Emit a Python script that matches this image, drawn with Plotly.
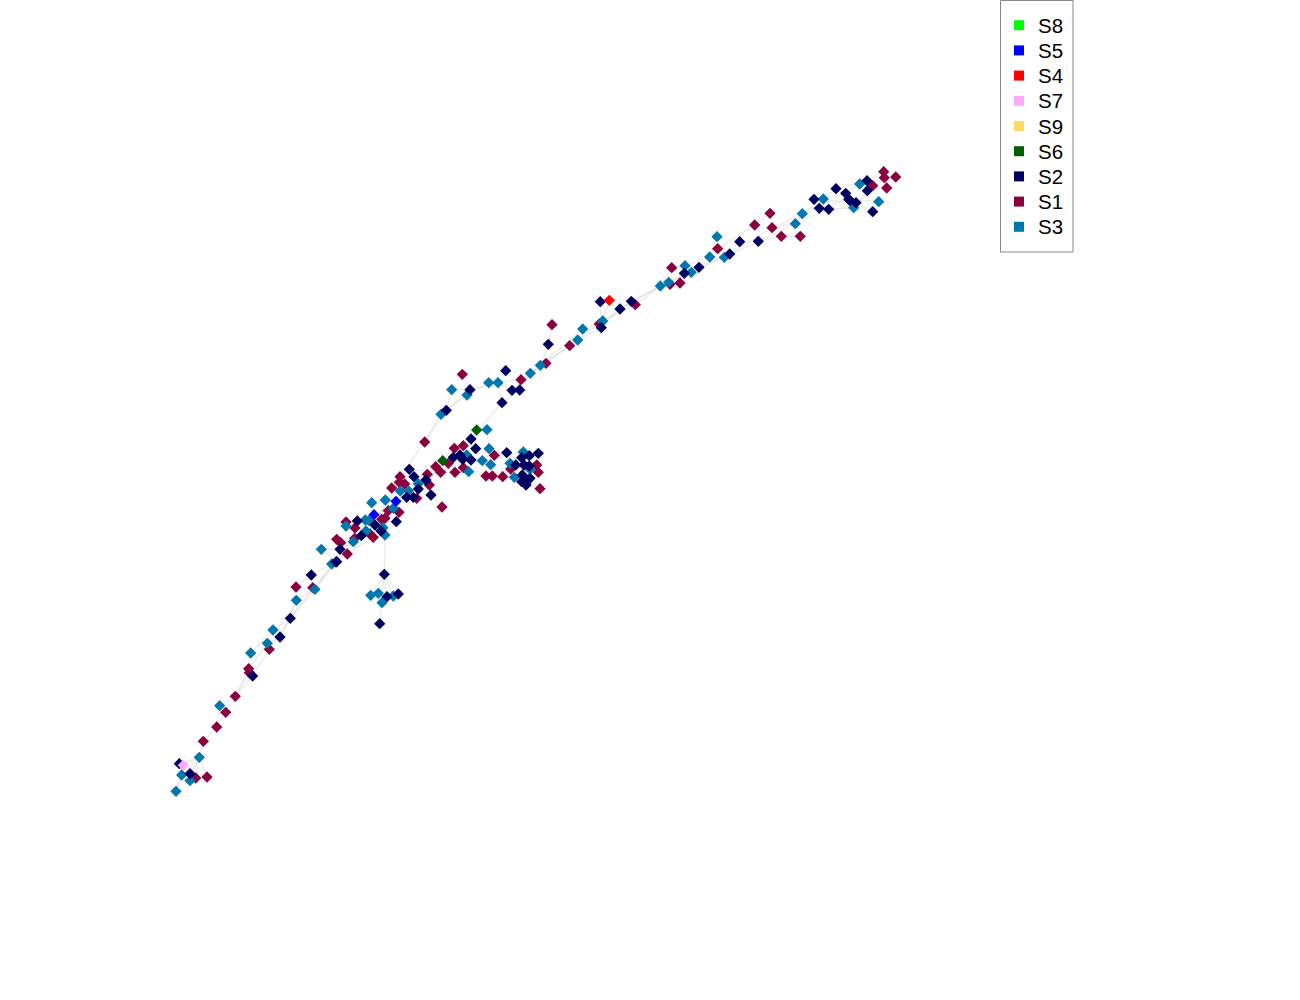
import plotly.graph_objects as go

# colours and names, same order as the legend
series = ["S8", "S5", "S4", "S7", "S9", "S6", "S2", "S1", "S3"]
colors = {"S8": "#00ff00", "S5": "#0000ff", "S4": "#ff0000", "S7": "#ffa8ff", "S9": "#ffd966",
          "S6": "#005f00", "S2": "#000060", "S1": "#8b003f", "S3": "#0078ae"}

# values
s2_x = [336.7, 311.3, 290.3, 280, 252.7, 179.3, 190, 384.3, 387, 398.3, 379.7,
        471, 475.7, 453.3, 460, 462.7, 471, 506.7, 538.3, 529.3, 521.7, 515.7, 524, 529.3, 522.3, 521.7, 526, 530,
        409.3, 414, 426, 418.3, 431, 406.7, 413.3, 396.3, 357.3, 375, 381, 361.3, 340, 336,
        600.3, 620, 631.3, 601.3, 548.3, 505.7, 470, 512, 519.7, 502, 446.3,
        684.3, 699, 729.7, 739.7, 758.3, 814, 819.3, 828.7, 836, 845.7, 848.7, 856, 850, 867, 867.3, 872.7]
s2_y = [561.7, 575, 618.3, 637, 676, 763.7, 773.7, 574.3, 596.7, 594, 623.7,
        439, 448.7, 457.3, 455, 459.3, 460, 452.7, 453.3, 455.7, 457.7, 465, 465, 466, 475, 481.7, 485, 478.3,
        469.3, 476.7, 480, 489, 495, 497.3, 497.3, 521.7, 521, 525, 531, 535.7, 549.3, 562,
        301.7, 309, 301.3, 327.7, 344.3, 370.7, 389.7, 390.3, 390, 402.7, 410.3,
        273.3, 267.3, 254, 241.7, 241.3, 199.3, 208.3, 209.3, 188.7, 193.3, 199.3, 202.7, 200.7, 180.7, 190.7, 211.7]

s1_x = [296, 312.7, 269.3, 248.7, 249.3, 235.3, 225.7, 216.7, 203.3, 195.7, 207,
        424.7, 463.3, 454.3, 494.3, 435.7, 440.7, 448.3, 455, 463.3, 486, 492.3, 502.7, 536.7, 538.3, 510.7, 540, 527.3,
        427.3, 429.3, 400, 399.3, 404.7, 391.7, 416.7, 442, 399, 388.3, 385, 381.7, 346, 355, 370, 373.3, 354.7, 336.7, 340.7, 347.3,
        635.3, 599.3, 552, 569.7, 546, 521, 462.3,
        671.7, 670, 680, 717.7, 754.7, 770, 772, 781.3, 800.3, 872.7, 883.7, 884.3, 895.7, 886.7]
s1_y = [587, 587.7, 649.3, 668.7, 672.7, 696.3, 712.3, 727, 741.3, 778, 777,
        442, 445.7, 448.3, 455.3, 466.7, 472.3, 463.3, 472.3, 467.7, 476, 476, 476.7, 465, 472.3, 469, 488.7, 481,
        474.3, 485, 476.7, 482.3, 484, 488, 498.3, 507, 512.3, 510.7, 518.3, 519.3, 522, 528, 534, 537.3, 538.3, 539.3, 542.7, 554,
        304.7, 324, 324.7, 345.7, 363.3, 379.7, 374.3,
        267.7, 284.3, 283, 248.7, 225, 213.3, 227.7, 236.3, 236.3, 185.7, 171.7, 177.7, 177, 188]

s3_x = [331.7, 315, 296.3, 273, 267.3, 250.7, 219.7, 199.3, 181.7, 190, 176, 370.7, 378.3, 393.3, 382,
        487, 489, 466.7, 482.3, 490.7, 468.7, 523.3, 510, 514.3, 530, 418.3, 408.3, 400.3, 371.7, 385.3, 393.3,
        369, 365.3, 346, 366, 383, 385, 353.3, 321.3,
        660.3, 602.7, 582.7, 577.7, 540.3, 530.3, 488.7, 498, 451.7, 467, 441,
        668.7, 685, 691.3, 709.7, 724.3, 717, 795.3, 802.3, 823.3, 859.7, 853.7, 878.7]
s3_y = [564, 589.3, 600.3, 630, 643.3, 653, 705.7, 757.3, 775, 780.7, 791.3, 595.3, 593.3, 596, 602.7,
        429.7, 448.7, 455, 460.7, 464.7, 471.7, 452, 463.3, 477.3, 469.3, 483.7, 490.7, 491, 502.7, 500, 508.3,
        520.7, 520, 526, 531, 527.7, 535, 541.7, 549.3,
        286, 321, 329, 340, 365.3, 373.3, 382.7, 382.7, 389.7, 395, 414.3,
        282.3, 265.7, 272.3, 257, 257.3, 236.7, 223.7, 213.7, 199, 184, 207.7, 201.7]

s4_x = [609.3]
s4_y = [300.3]
s5_x = [396, 374]
s5_y = [501.3, 514.7]
s6_x = [476.7, 442.7]
s6_y = [430, 460.7]
s7_x = [183.3]
s7_y = [765.3]

# bottom to top
points = {"S1": (s1_x, s1_y), "S3": (s3_x, s3_y), "S2": (s2_x, s2_y),
          "S6": (s6_x, s6_y), "S5": (s5_x, s5_y), "S4": (s4_x, s4_y), "S7": (s7_x, s7_y)}

# faint links, each one a run through nodes
links = [
    [(199.3, 757.3), (179.3, 763.7)], [(199.3, 757.3), (183.3, 765.3), (176, 791.3)], [(199.3, 757.3), (181.7, 775), (176, 791.3)],
    [(199.3, 757.3), (190, 773.7)], [(199.3, 757.3), (190, 780.7)], [(199.3, 757.3), (195.7, 778)], [(199.3, 757.3), (207, 777)],
    [(183.3, 765.3), (190, 773.7)], [(179.3, 763.7), (181.7, 775)],
    [(199.3, 757.3), (203.3, 741.3), (216.7, 727), (225.7, 712.3), (235.3, 696.3), (248.7, 668.7), (267.3, 643.3), (280, 637), (290.3, 618.3), (296.3, 600.3), (315, 589.3), (331.7, 564), (353.3, 541.7), (369, 520.7), (396, 501.3), (418.3, 483.7), (440.7, 472.3), (463.3, 460)],
    [(216.7, 727), (219.7, 705.7), (235.3, 696.3), (252.7, 676), (269.3, 649.3), (290.3, 618.3), (312.7, 587.7), (336.7, 561.7), (354.7, 538.3), (373.3, 520), (399, 491), (426, 480), (448.3, 463.3)],
    [(235.3, 696.3), (249.3, 672.7), (250.7, 653), (273, 630), (290.3, 618.3), (296, 587), (311.3, 575), (336, 562), (340.7, 542.7), (366, 531), (385, 518.3), (408.3, 490.7), (427.3, 474.3), (454.3, 448.3)],
    [(290.3, 618.3), (315, 589.3), (336.7, 561.7), (321.3, 549.3), (340, 549.3), (361.3, 535.7), (381.7, 519.3), (400, 476.7), (424.7, 442), (441, 414.3), (446.3, 410.3), (467, 395), (488.7, 382.7), (521, 379.7), (540.3, 365.3), (569.7, 345.7), (602.7, 321), (635.3, 304.7), (660.3, 286)],
    [(336, 562), (347.3, 554), (373.3, 537.3), (385, 500), (409.3, 469.3), (440.7, 472.3), (471, 439), (502, 402.7), (519.7, 390), (530.3, 373.3), (546, 363.3), (577.7, 340), (601.3, 327.7), (620, 309), (660.3, 286), (691.3, 272.3), (724.3, 257.3), (758.3, 241.3), (795.3, 223.7), (828.7, 209.3), (853.7, 207.7), (872.7, 185.7)],
    [(424.7, 442), (446.3, 410.3), (470, 389.7), (498, 382.7), (512, 390.3), (540.3, 365.3), (582.7, 329), (599.3, 324), (631.3, 301.3), (668.7, 282.3), (699, 267.3), (729.7, 254), (772, 227.7), (802.3, 213.7), (836, 188.7), (867, 180.7), (883.7, 171.7)],
    [(476.7, 430), (471, 439)], [(487, 429.7), (489, 448.7)], [(462.3, 374.3), (470, 389.7)], [(451.7, 389.7), (470, 389.7)], [(451.7, 389.7), (446.3, 410.3)],
    [(505.7, 370.7), (488.7, 382.7)], [(502, 402.7), (498, 382.7)], [(548.3, 344.3), (552, 324.7)], [(548.3, 344.3), (540.3, 365.3)],
    [(600.3, 301.7), (601.3, 327.7)], [(609.3, 300.3), (602.7, 321)],
    [(660.3, 286), (671.7, 267.7), (685, 265.7), (709.7, 257), (717, 236.7)], [(670, 284.3), (680, 283), (699, 267.3), (717.7, 248.7), (754.7, 225), (770, 213.3)],
    [(758.3, 241.3), (781.3, 236.3), (800.3, 236.3)], [(772, 227.7), (795.3, 223.7), (823.3, 199), (845.7, 193.3), (859.7, 184), (895.7, 177)],
    [(819.3, 208.3), (848.7, 199.3), (878.7, 201.7)], [(814, 199.3), (856, 202.7), (872.7, 211.7)], [(853.7, 207.7), (884.3, 177.7), (886.7, 188)],
    [(440.7, 472.3), (468.7, 471.7), (486, 476), (510.7, 469), (536.7, 465)], [(463.3, 467.7), (492.3, 476), (514.3, 477.3), (527.3, 481), (540, 488.7)],
    [(471, 460), (506.7, 452.7), (524, 465), (538.3, 453.3)], [(489, 448.7), (510, 463.3), (538.3, 472.3)], [(482.3, 460.7), (523.3, 452), (530, 469.3)], [(502.7, 476.7), (521.7, 457.7)],
    [(418.3, 489), (431, 495), (442, 507)], [(385, 535), (384.3, 574.3)],
    [(384.3, 574.3), (370.7, 595.3)], [(384.3, 574.3), (378.3, 593.3)], [(384.3, 574.3), (387, 596.7)], [(384.3, 574.3), (393.3, 596)], [(384.3, 574.3), (398.3, 594)], [(384.3, 574.3), (382, 602.7), (379.7, 623.7)],
]

edge_x = []
edge_y = []
for run in links:
    edge_x += [p[0] for p in run] + [None]
    edge_y += [p[1] for p in run] + [None]

fig = go.Figure()

fig.add_trace(go.Scatter(x=edge_x, y=edge_y, mode="lines", showlegend=False, hoverinfo="skip",
                         line=dict(color="rgba(200,200,200,0.4)", width=1.2)))

for name, (xs, ys) in points.items():
    fig.add_trace(go.Scatter(x=xs, y=ys, mode="markers", name=name, showlegend=False,
                             marker=dict(symbol="diamond", size=8.7, color=colors[name], line=dict(width=0))))

# plotly ties legend row height to font size, so this legend is drawn by hand to get the 25px rows
fig.add_shape(type="rect", x0=1000.5, x1=1073, y0=0.5, y1=252, fillcolor="white",
              line=dict(color="#888888", width=1))
for i, name in enumerate(series):
    row = 25.2 * (i + 1)
    fig.add_shape(type="rect", x0=1014, x1=1024, y0=row - 5, y1=row + 5, fillcolor=colors[name], line=dict(width=0))
    fig.add_annotation(x=1038, y=row, text=name, showarrow=False, xanchor="left", yanchor="middle",
                       xshift=-2, font=dict(family="Liberation Sans", size=20.5, color="black"))

fig.update_layout(
    width=1300, height=1000,
    margin=dict(l=0, r=0, t=0, b=0),
    paper_bgcolor="white", plot_bgcolor="white",
    showlegend=False,
    xaxis=dict(range=[0, 1300], visible=False),
    yaxis=dict(range=[1000, 0], visible=False),
)

fig.write_html("out.html", config={"displayModeBar": False}, post_script="document.body.style.margin='0';")
